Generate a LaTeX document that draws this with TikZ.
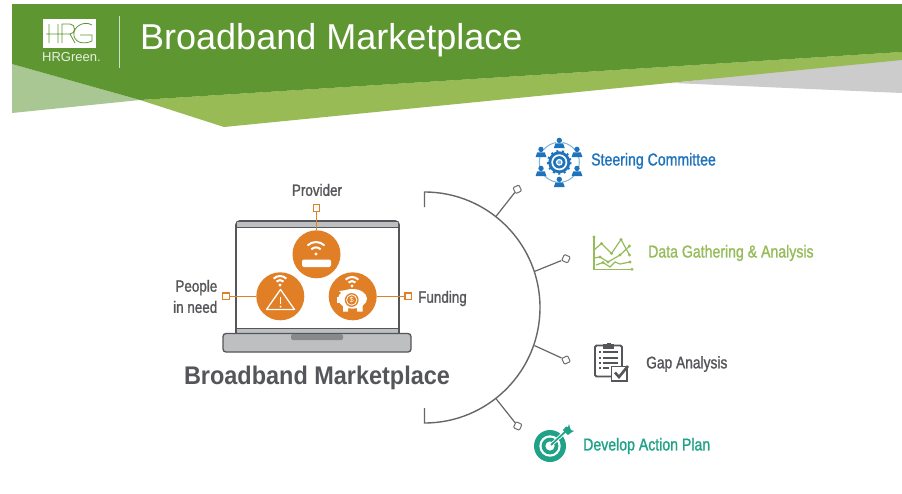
\documentclass[tikz,border=0pt]{standalone}
\usepackage{fontspec}
\setmainfont{Liberation Sans}
\newfontfamily\lab[FakeStretch=0.82,FakeBold=1.2]{Liberation Sans}
\newfontfamily\biglab[FakeStretch=0.92]{Liberation Sans Bold}
\definecolor{hdark}{HTML}{5E9732}
\definecolor{hlime}{HTML}{98BB55}
\definecolor{hpale}{HTML}{A9C792}
\definecolor{hgrey}{HTML}{CCCCCC}
\definecolor{lgrey}{HTML}{55565A}
\definecolor{lidgrey}{HTML}{BEBFC1}
\definecolor{ora}{HTML}{E07F26}
\definecolor{sblue}{HTML}{1F73BB}
\definecolor{sblue2}{HTML}{7FB2DD}
\definecolor{dgreen}{HTML}{96BC5A}
\definecolor{teal1}{HTML}{1FA287}
\tikzset{
  orangedot/.style={circle,fill=ora,minimum size=48pt,inner sep=0pt},
  obox/.style={rectangle,draw=ora,fill=white,line width=1.2pt,minimum size=6.5pt,inner sep=0pt},
  olink/.style={draw=ora,line width=1.5pt},
  gbox/.style={rectangle,rounded corners=1pt,draw=lgrey!85,fill=white,line width=1pt,minimum size=6.5pt,inner sep=0pt},
  glink/.style={draw=lgrey!90,line width=1.2pt},
  txt/.style={inner sep=0pt,font=\lab\fontsize{16.4}{19}\selectfont,text=lgrey},
  itm/.style={inner sep=0pt,font=\lab\fontsize{17.2}{20}\selectfont},
  wifiw/.style={white,line width=2pt}
}
% wifi fan: apex x y, outer radius
\newcommand{\wifisym}[3]{%
  \fill[white] (#1,#2) circle (1.7);
  \draw[wifiw] ({#1+#3*0.55*cos(225)},{#2+#3*0.55*sin(225)}) arc[start angle=225,end angle=315,radius=#3*0.55];
  \draw[wifiw] ({#1+#3*cos(225)},{#2+#3*sin(225)}) arc[start angle=225,end angle=315,radius=#3];
}
\newcommand{\persona}[2]{%
  \fill[sblue] (#1,#2-2.6) circle (2.7);
  \fill[sblue] (#1-5.5,#2+5.2) -- (#1-3.8,#2+.4) -- (#1+3.8,#2+.4) -- (#1+5.5,#2+5.2) -- cycle;
}
\begin{document}
\begin{tikzpicture}[x=1pt,y=1pt,yscale=-1]
\useasboundingbox (0,0) rectangle (902,493);
\fill[white] (0,0) rectangle (902,493);
% header
\fill[hgrey] (673,83) -- (902,93) -- (902,56) -- cycle;
\fill[hpale] (12,64) -- (140,100) -- (12,113) -- cycle;
\fill[hlime] (140,100) -- (224,127) -- (902,60) -- (902,52) -- cycle;
\fill[hdark] (12,4) -- (902,4) -- (902,52) -- (140,100) -- (12,64) -- cycle;
% logo
\fill[white] (43,19) rectangle (96,48);
\draw[hdark,line width=.8pt] (49,24) -- (49,43) (58,24) -- (58,43) (46,34) -- (71,34)
  (62,43) -- (62,24) -- (70,24) .. controls (76,24) and (76,34) .. (70,34) -- (75,43)
  (92,25) .. controls (84,20) and (72,27) .. (74,36) .. controls (76,44) and (86,44) .. (92,41) -- (92,35) -- (80,35);
\node[inner sep=0pt,anchor=west,text=white!85!hdark,font=\fontsize{13}{15}\selectfont] (logotext) at (42,57.5) {HRGreen.};
\coordinate (divtop) at (119,16);
\coordinate (divbot) at (119,68);
\draw[white!70!hdark,line width=.8pt] (divtop) -- (divbot);
\node[inner sep=0pt,anchor=west,text=white,font=\fontsize{36}{40}\selectfont] (title) at (140,40) {Broadband Marketplace};

% laptop
\draw[lgrey,line width=1.9pt,fill=white,rounded corners=4pt] (236,335) -- (236,221) -- (399,221) -- (399,335);
\fill[lidgrey] (237,222.2) -- (398,222.2) -- (398,227) -- (237,227) -- cycle;
\draw[lgrey,line width=.8pt] (236.5,227.5) -- (398.5,227.5);
\fill[lidgrey] (237,328) rectangle (398,333);
\draw[lgrey,line width=.8pt] (236.5,328) -- (398.5,328);
\draw[lgrey,line width=1.3pt,fill=lidgrey,rounded corners=3pt] (223,333.5) -- (411,333.5) -- (411,352) -- (223,352) -- cycle;
\fill[lgrey!70,rounded corners=1.5pt] (291,334) -- (343,334) -- (343,340) -- (291,340) -- cycle;

% orange nodes
\node[orangedot] (prov) at (316.5,254.3) {};
\node[orangedot] (need) at (280.3,296.3) {};
\node[orangedot] (fund) at (352.7,296.3) {};
\node[obox] (provb) at (316.5,208) {};
\node[obox] (needb) at (226,296.3) {};
\node[obox] (fundb) at (408.3,296.3) {};
\draw[olink] (prov) -- (provb);
\draw[olink] (need) -- (needb);
\draw[olink] (fund) -- (fundb);
% provider icon
\wifisym{316}{254}{12}
\fill[white,rounded corners=2pt] (302,259.5) rectangle (331,267);
% need icon
\wifisym{280}{285}{9}
\draw[white,line width=1.3pt,line join=round] (266.5,309.5) -- (280.5,289.5) -- (294.5,309.5) -- cycle;
\draw[white,line width=1.8pt] (280.5,297) -- (280.5,304);
\fill[white] (280.5,306.7) circle (1);
% fund icon
\wifisym{352}{286}{9}
\fill[white] (352.5,298.8) ellipse (14.5 and 9.8);
\fill[white] (339,291) -- (347,290) -- (345,296) -- cycle;
\fill[white] (336.5,296.5) rectangle (342,303);
\fill[white] (343,304) rectangle (348,311.7) (357,304) rectangle (362.5,311.7);
\fill[ora] (351.7,300) circle (6.9);
\draw[white,line width=.8pt] (351.7,300) circle (5.2);
\node[inner sep=0pt,text=white,font=\fontsize{7.5}{8}\selectfont] (dollar) at (351.7,300) {\$};

% labels
\node[txt] (lprov) at (317,190) {Provider};
\node[txt,anchor=east,align=right] (lneed1) at (217.5,287.5) {People};
\node[txt,anchor=east,align=right] (lneed2) at (217.5,307) {in need};
\node[txt,anchor=west] (lfund) at (418,298.5) {Funding};
\node[inner sep=0pt,text=lgrey,font=\biglab\fontsize{25.5}{28}\selectfont] (lbig) at (317,378) {Broadband Marketplace};

% arc
\coordinate (ac) at (424.5,307.5);
\coordinate (astart) at (424.5,207);
\coordinate (aend) at (424.5,423);
\draw[lgrey!90,line width=1.4pt] (astart) -- (424.5,192) arc[start angle=-90,end angle=90,radius=115.5] -- (424.5,408);
\node[gbox,rotate=25] (t1) at (517.3,189.3) {};
\node[gbox,rotate=-25] (t2) at (566,258.7) {};
\node[gbox,rotate=25] (t3) at (566,360) {};
\node[gbox,rotate=-25] (t4) at (517.7,426) {};
\coordinate (p1) at (495.8,216.6);
\coordinate (p2) at (534.3,271.5);
\coordinate (p3) at (534.3,345.5);
\coordinate (p4) at (495.8,398.4);
\draw[glink] (p1) -- (t1);
\draw[glink] (p2) -- (t2);
\draw[glink] (p3) -- (t3);
\draw[glink] (p4) -- (t4);

% steering icon
\foreach \a in {-90,-30,30,90,150,210}
  \draw[sblue2,line width=1pt] ({559.3+20*cos(\a+9)},{162.3+20*sin(\a+9)}) arc[start angle=\a+9,end angle=\a+51,radius=20];
\persona{559.3}{143}
\persona{577}{152}
\persona{577}{171}
\persona{559.3}{182}
\persona{541}{171}
\persona{541}{152}
\draw[sblue,line width=2pt,dash pattern=on 2pt off 3.6pt] (559.3,162.3) circle (11.4);
\fill[sblue] (559.3,162.3) circle (11);
\fill[white] (559.3,162.3) circle (8);
\fill[sblue] (559.3,162.3) circle (6.2);
\fill[white] (559.3,162.3) circle (3.4);
\fill[sblue2] (559.3,162.3) circle (2);
\node[itm,anchor=west,text=sblue] (lsteer) at (591,161) {Steering Committee};

% data icon
\draw[dgreen,line width=1.4pt] (594,237) -- (594,269.3) -- (632,269.3);
\draw[dgreen,line width=1.2pt] (594,250) -- (601.5,243.5) -- (611.5,253.5) -- (621,239.5) -- (629.5,255);
\draw[dgreen,line width=1.2pt] (594,258) -- (600,257) -- (608,262) -- (620,255) -- (629.5,246);
\draw[dgreen,line width=1.2pt] (596,265) -- (603,262.5) -- (610,267) -- (615,262) -- (620,264) -- (630,262);
\foreach \px/\py in {594/237,601.5/243.5,611.5/253.5,621/239.5,629.5/255,600/257,608/262,620/255,629.5/246,603/262.5,630/262,632/269.3}
  \fill[dgreen] (\px,\py) circle (1.6);
\node[itm,anchor=west,text=dgreen] (ldata) at (648,253) {Data Gathering \& Analysis};

% gap icon
\draw[lgrey,line width=1.9pt,rounded corners=1.5pt] (595,345.5) rectangle (622,376.5);
\fill[lgrey] (603,344) rectangle (614,348.5);
\fill[lgrey] (606.5,342.5) rectangle (610.5,345);
\foreach \ly in {352.3,357.7,362.7}{
  \fill[lgrey] (599,\ly-1) rectangle (601,\ly+1);
  \fill[lgrey] (603,\ly-1) rectangle (618,\ly+1);
}
\fill[lgrey] (599,367) rectangle (601,368.8);
\fill[lgrey] (603,367) rectangle (609,368.8);
\draw[lgrey,line width=1.9pt,fill=white] (611.5,366.5) rectangle (627,381);
\draw[lgrey,line width=2.6pt] (615,372.5) -- (619,377) -- (628,366);
\node[itm,anchor=west,text=lgrey,font=\lab\fontsize{16.8}{20}\selectfont] (lgap) at (646,364) {Gap Analysis};

% target icon
\fill[teal1] (550,446) circle (16);
\fill[white] (550,446) circle (10.7);
\fill[teal1] (550,446) circle (8.4);
\fill[white] (550,446) circle (4.6);
\draw[white,line width=3.5pt] (551,445) -- (566,431);
\draw[teal1,line width=1.7pt] (551,445) -- (566,431);
\fill[teal1] (563,430) -- (566,426.5) -- (568,427) -- (569,424) -- (570,428) -- (571,430) -- (574,431) -- (570.5,433) -- (568,435) -- cycle;
\node[itm,anchor=west,text=teal1] (ldev) at (583,446) {Develop Action Plan};
\end{tikzpicture}
\end{document}
